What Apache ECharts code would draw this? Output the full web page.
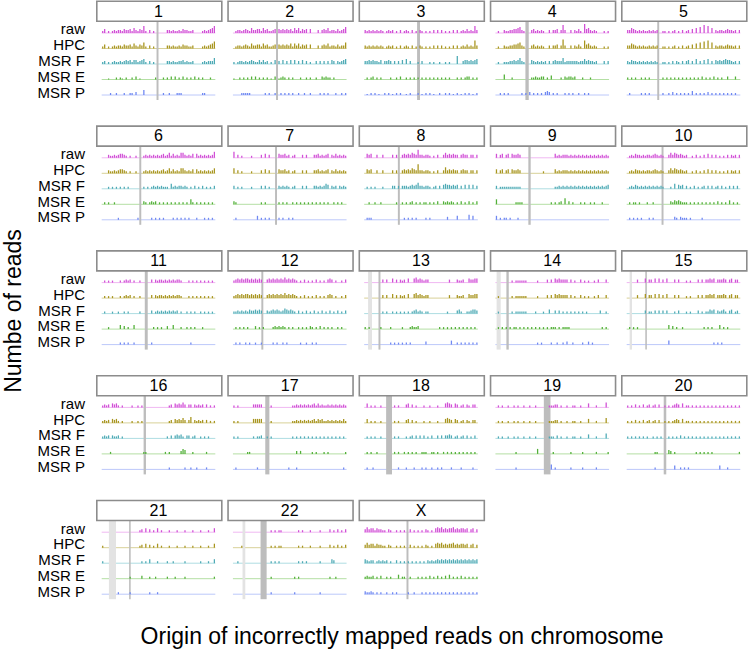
<!DOCTYPE html>
<html>
<head>
<meta charset="utf-8">
<script src="https://cdn.jsdelivr.net/npm/echarts@6/dist/echarts.min.js"></script>
<style>html,body{margin:0;padding:0;background:#fff}#c{width:750px;height:653px}</style>
</head>
<body>
<div id="c"></div>
<script>
// ---------------- data ----------------
const chromosomes = ['1','2','3','4','5','6','7','8','9','10','11','12','13','14','15','16','17','18','19','20','21','22','X'];
const trackNames = ['raw','HPC','MSR F','MSR E','MSR P'];
const binsPerChromosome = 58;

// read counts per bin (one digit per bin), per chromosome
const rawCounts = [
"2402023233 2433425324 3720302000 0003323223 2433223000 02323457",
"0233234325 3344253422 3404343434 2535243404 0003034352 33242346",
"3232323232 0232302030 2320302032 0202030303 0202030302 32423273",
"0200322334 4563200034 2323200303 3403830030 3242094532 32000202",
"3354323232 2323230022 0202302030 2304050608 0705032332 34332303",
"0003223234 4320200200 0232323232 3423524232 5532324042 32323236",
"6030200002 0000304030 0004334230 2300030300 0334232340 32423232",
"0434003003 0000303003 4343543833 2332020300 3534343303 43303303",
"4034034043 3430000000 0000000000 4232333232 3232323232 32323232",
"0232433232 3323432320 0353543432 3002030203 0403030202 03032303",
"0202020002 0232302002 0000030323 3232323233 2000202020 20202020",
"2343434434 3434300343 4343435343 4320203020 2030202034 30200203",
"0000000003 0300403032 3040045343 2330000000 0003000322 30043344",
"0000000020 2222220000 0200003030 4343333030 2003020200 20300030",
"0000030004 0330404030 4000303000 2020003030 3343403334 30340330",
"2323043420 2000020020 2000000000 0000230434 3530330323 23030202",
"2020000000 3333300002 0000000000 2232323232 3424232232 32323232",
"0402020020 0000020200 0340302000 2002000200 0454304302 30320330",
"0202002002 0200200200 2000000222 3302002002 2002000400 02000050",
"2020302030 2302303002 0202343040 2202020202 0202020202 02020202",
"0000000000 0000000002 3040302040 2000200020 0020002000 20002004",
"0000000000 0000000002 0202200000 0002020002 0000200003 02030203",
"3534424332 2032002020 2003020202 0320204545 3434453434 43403403"
];
const hpcCounts = [
"2402023233 2433425324 3620302000 0003323223 2433223000 02323457",
"0233234325 3344253422 3404343435 2535243404 0003034352 33242336",
"3232323232 0232302030 2320302032 0202030303 0202030302 32423283",
"0200322334 4563200034 2323200303 3403930030 3242084532 32000202",
"3354323232 2323230022 0202302030 2304050607 0806032332 34332303",
"0003223234 4320200200 0232323232 3423524232 5532324042 32323235",
"5030200002 0000304030 0004334230 2300030300 0334232340 32423232",
"0434003003 0000303003 4343543933 2332020300 3634343303 43303303",
"4034034043 3430000000 0000200000 4232333232 3232323232 32323232",
"0232433232 3323432320 0353543432 3002030203 0403030202 03032303",
"0202020002 0232302002 0000030323 3232323233 2000202020 20202020",
"2343434434 3434300343 4343435343 4320203020 2030202034 30200203",
"0000000003 0300403032 3040045343 2330000000 0003000322 30043344",
"0200000020 2222220000 0200003030 4343333030 2003020200 20300030",
"0000030004 0330404030 4000303000 2020003030 3343403334 30340330",
"2323043420 2000020020 2000000000 0000230434 3530360323 23030202",
"2020000000 4444400002 0000000000 2232323232 3424342232 32323242",
"0402020020 0000020200 0340302000 2002000200 0454304302 30320330",
"0202002002 0200200200 2000000222 3302002002 2002000400 02000050",
"2020302030 2302303002 0202343040 2202020202 0202020202 02020202",
"2000000000 0000000002 3040302040 2000200020 0020002000 20002004",
"0000200000 0000000002 0202200000 0002020002 0000200003 02030203",
"3534424332 2032002020 2003020202 0320204545 3434453434 43403403"
];
const msrFCounts = [
"2302023223 2343424423 4520302000 0003323223 3423223000 02323336",
"2023323234 3224242302 0403040304 0403040302 0030303030 43032345",
"3343433240 3343030304 0503000203 0002020020 0202000800 34434345",
"0200222334 3463200043 2323230303 4333623333 3323353433 23000303",
"3243323232 3232320022 0203032030 3403050304 0503043434 54432303",
"0002020202 0202000000 0202023232 3222052323 3232020302 03020203",
"3020200002 0000303020 0003232320 2300030300 0332323540 32303232",
"0202020002 0000330303 3323434633 2332023030 4544343403 04040403",
"3022222222 2220000000 0000000000 2232323232 3232323232 32323234",
"0232432323 2323232320 0020504340 3020302023 0303023030 20303030",
"0200020020 0202000002 0000030232 3232323230 2002020200 20202020",
"2232323243 3434300323 4343235434 3203020302 0302030203 02030203",
"0000000002 0200202020 2020234232 0220000000 0020000342 00223443",
"0200000020 2222220000 2000200400 3030202020 2020202000 00030020",
"0000000003 0220303030 3000203000 2020003020 2243403234 20340230",
"2323032230 2000000000 0000000000 0002030343 4203302300 20202000",
"2020000000 2022300202 0000000000 2020202020 2020202020 20202020",
"0202020020 0000020200 0202303030 3020300303 0334302302 30302030",
"0202002002 0200200200 2000000222 0302002002 2002000400 02000050",
"2020202020 2002020200 0202020302 0202020202 0202020202 02020202",
"2000000000 0000000000 2020400020 0002002000 0020000000 20002004",
"0020000000 0000000002 0202000000 0002020200 0000200000 43000000",
"4323302323 2302003020 2020202020 2032323434 3434343434 34343434"
];
const msrECounts = [
"0001000202 1020020301 0000000200 0202030302 0302020302 02000200",
"1002020203 0302020201 0301232020 2000200202 0020032322 02000000",
"0202302020 0002002030 0202020202 0202020202 0202000202 02330202",
"0000500020 0000000022 3223302040 0002032332 3000200020 00000000",
"2020200202 0200000020 2020202020 2020202030 2020302020 03000300",
"0202002000 0000000000 0320232302 0202020202 0202052020 20202020",
"3200000000 0000202000 0002020200 2020202020 2020202020 02020200",
"0020020020 0000002002 0202302020 2202020300 3232320203 02030203",
"5000000000 2222000000 0000000020 2023060302 0002020020 20002000",
"0202202000 2002000000 0032434322 2020202020 2020203020 20402020",
"0002000004 0302004000 0000002020 2003004000 2002020200 02000000",
"0202020200 0302020000 2323232020 2002020203 2020302020 20020200",
"2020000020 0002000002 0002322300 0000000020 2020202020 20202020",
"0202020202 2020202020 2020202022 2020222200 0000000000 00002020",
"0202020000 0000000000 0403020020 0000000002 0202000402 02000000",
"0000200000 0000000000 0220000000 0020200000 3540002000 00020000",
"0000000220 0000000000 0000000000 0030300000 2020002020 00000002",
"0202002000 0000020200 2020202002 2200220200 2020202020 20202020",
"0000000000 2000000000 0500000002 0000000020 0000200000 02000002",
"0000000000 0000220000 0430200000 0000020202 0202000000 00000002",
"0000000000 0000200000 3000200200 0002000200 0020000000 00000002",
"0000000000 0000000002 0000000000 0202000000 0000000002 00200000",
"2322302030 0202000402 2002000202 0203020302 0304020203 02020202"
];
const msrPCounts = [
"0000200200 0200220300 0500000000 0200200022 2000000000 02200000",
"0000222220 0000002020 0200202020 2002002002 0000202020 00200202",
"0102020100 2020102020 0102000201 0202010020 0202010201 02020102",
"0020202000 0002020302 0202034302 0200020202 0020020200 00000000",
"0200000202 0200000020 0203020202 0204020202 0302020202 02020200",
"0000000020 0000000020 0000020202 0200002020 2020200020 00202020",
"0200000000 0040202020 0002020020 2000000000 0000000000 00000000",
"0222000000 0000000000 2020202000 0202000000 0030000400 00050400",
"4020220200 0200000000 0000000000 0000000000 0000000000 00000000",
"0202020200 0202000000 0000320322 2020000020 0000000000 00000000",
"0000000002 0202002000 0000020000 0000000000 0000020000 00000000",
"0202002020 0200200000 2020020200 0000200200 2020000000 00000000",
"0000000000 0002020202 0202000000 0300000000 0000400202 02020202",
"0000000000 0000000000 0202000020 0200203002 0000200302 00000000",
"0000000000 0000000000 0400000000 0000000000 0000202020 00000000",
"0000000000 0000000000 0000000000 0000200000 0020020020 00020000",
"0200000000 0020000000 0000000020 0020000000 0000000000 00000020",
"0200200000 0000000200 0200020002 0200200202 0000200002 00000200",
"0000000000 2000000000 0000000050 2000000020 0000200000 02000000",
"0000000000 0000200000 0000400202 0200000000 0000000400 02000000",
"0000000020 0000200000 0000200020 0000000000 0000000000 00000000",
"0000000000 0000000002 0000000000 0200000000 0000200000 00000000",
"3223202020 0200202000 0020020002 0202020202 0202020202 02020202"
];
// centromere (dark) and gap (light) regions, in bins
const centromereBins = [
[28,29],[22,23],[27,28.5],[15.3,17],[15.6,16.6],[19.2,20.2],[21.5,22.5],[17.2,18.2],[16.8,18],[17.8,18.8],
[22,23.5],[14.5,15.5],[7.3,8.3],[5.6,6.8],[9.5,10.3],[21.4,22.6],[16.5,18.6],[11.2,14.2],[24.7,28.1],[18.9,20.2],
[14,14.8],[14.1,17.2],[21.6,22.6]
];
const gapBins = [
null,null,null,null,null,null,null,null,null,null,
null,null,[2,4],[0.6,2.7],[1.5,2.7],null,null,null,null,null,
[3.7,7.3],[4.9,6.3],null
];

// ---------------- layout / style ----------------
const trackData = [rawCounts, hpcCounts, msrFCounts, msrECounts, msrPCounts];
const barColors = ['#D14FD6','#A8951F','#4EAAB5','#52B038','#6F88F2'];
const lineColors = ['#F0B8F2','#D8D198','#AEDDE2','#B4DFA4','#BCC8FA'];
const YMAX = 79;
const trackBase = [67, 51.5, 36, 20.5, 5];
const N = binsPerChromosome;
const FONT = '"Liberation Sans", Arial, sans-serif';

function renderItem(params, api) {
  const kind = api.value(0);
  if (kind === 0) {
    const a = api.coord([api.value(1), YMAX]);
    const b = api.coord([api.value(2), 0]);
    return {type:'rect', shape:{x:a[0], y:a[1], width:b[0]-a[0], height:b[1]-a[1]},
      style:{fill: api.value(3) ? '#BDBDBD' : '#E3E3E3'}};
  }
  if (kind === 1) {
    const t = api.value(1);
    const a = api.coord([0, trackBase[t]]);
    const b = api.coord([N, trackBase[t]]);
    return {type:'line', shape:{x1:a[0], y1:a[1], x2:b[0], y2:b[1]},
      style:{stroke: lineColors[t], lineWidth: 1}};
  }
  const bin = api.value(1), t = api.value(2), h = api.value(3);
  const a = api.coord([bin + 0.2, trackBase[t] + h]);
  const b = api.coord([bin + 0.85, trackBase[t]]);
  return {type:'rect', shape:{x:a[0], y:a[1], width:b[0]-a[0], height:b[1]-a[1]},
    style:{fill: barColors[t]}};
}

const grids = [], xAxes = [], yAxes = [], series = [], graphics = [];
const colPitch = 131.25, rowPitch = 124.8, panelW = 125;
chromosomes.forEach((chr, k) => {
  const col = k % 5, row = Math.floor(k / 5);
  const left = 96 + col * colPitch;
  const rowTop = row * rowPitch;
  grids.push({left: left, top: rowTop + 21, width: panelW, height: YMAX});
  xAxes.push({gridIndex: k, type:'value', min: -N * 0.05, max: N * 1.05, show: false});
  const yIdx = yAxes.length;
  yAxes.push({gridIndex: k, type:'value', min: 0, max: YMAX, show: false, position: 'right'});
  if (col === 0) {
    yAxes.push({gridIndex: k, type:'category', position: 'left', offset: 0,
      data: trackNames.slice().reverse(),
      axisLine:{show:false}, axisTick:{show:false}, splitLine:{show:false},
      axisLabel:{interval: 0, fontSize: 15, color:'#000', margin: 11, fontFamily: FONT}});
  }
  const items = [];
  for (let t = 0; t < 5; t++) items.push([1, t, 0, 0]);
  if (gapBins[k]) items.push([0, gapBins[k][0], gapBins[k][1], 0]);
  items.push([0, centromereBins[k][0], centromereBins[k][1], 1]);
  for (let t = 0; t < 5; t++) {
    const s = trackData[t][k].replace(/\s+/g, '');
    for (let i = 0; i < s.length && i < N; i++) {
      const h = +s[i];
      if (h > 0) items.push([2, i, t, h]);
    }
  }
  series.push({type:'custom', coordinateSystem:'cartesian2d', xAxisIndex: k, yAxisIndex: yIdx,
    renderItem: renderItem, data: items, clip: false, silent: true});
  graphics.push({type:'rect', left: left, top: rowTop + 0.5, z: 10,
    shape:{x:0, y:0, width: panelW, height: 20},
    style:{fill:'#fff', stroke:'#8C8C8C', lineWidth: 1.6}});
  graphics.push({type:'text', x: left + panelW / 2, y: rowTop + 11, z: 11,
    style:{text: chr, font: '16px ' + FONT, fill:'#000', align:'center', verticalAlign:'middle',
      textAlign:'center', textVerticalAlign:'middle'}});
});
graphics.push({type:'text', x: 402, y: 636, z: 11,
  style:{text:'Origin of incorrectly mapped reads on chromosome', font:'23px ' + FONT, fill:'#000',
    align:'center', verticalAlign:'middle', textAlign:'center', textVerticalAlign:'middle'}});
graphics.push({type:'text', x: 13, y: 311, rotation: Math.PI / 2, z: 11,
  style:{text:'Numbe of reads', font:'23px ' + FONT, fill:'#000',
    align:'center', verticalAlign:'middle', textAlign:'center', textVerticalAlign:'middle'}});

const chart = echarts.init(document.getElementById('c'), null, {renderer:'svg'});
chart.setOption({
  animation: false,
  backgroundColor: '#fff',
  grid: grids, xAxis: xAxes, yAxis: yAxes, series: series, graphic: graphics
});
</script>
</body>
</html>
